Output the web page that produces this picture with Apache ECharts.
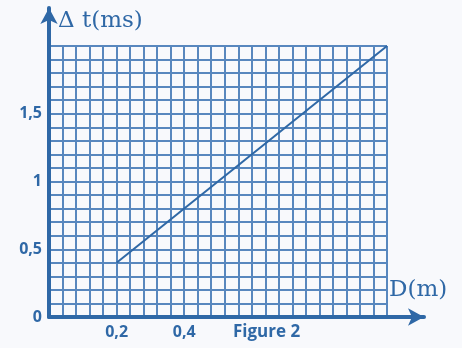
<!DOCTYPE html>
<html>
<head>
<meta charset="utf-8">
<script src="https://cdn.jsdelivr.net/npm/echarts@6/dist/echarts.min.js"></script>
<style>
html,body{margin:0;padding:0;background:#f8f9fc;}
#c{width:462px;height:348px;}
</style>
</head>
<body>
<div id="c"></div>
<script>
// Data
const lineD = [0.2, 1.0];          // D (m)
const lineT = [0.4, 2.0];          // Δt (ms)
const xTickLabels = [0.2, 0.4];
const yTickLabels = [0, 0.5, 1, 1.5];
const xLabelName = 'D(m)';
const yLabelName = 'Δ t(ms)';
const caption = 'Figure 2';

const blue = '#2f68a6';
const gridBlue = '#5887be';
const fmt = v => String(v).replace('.', ',');
const near = (arr, v) => arr.some(a => Math.abs(a - v) < 1e-6);

const chart = echarts.init(document.getElementById('c'), null, {renderer: 'canvas'});
chart.setOption({
  backgroundColor: '#f8f9fc',
  animation: false,
  grid: [
    {left: 49, top: 46, width: 338, height: 271},
    {left: 49, top: 8, width: 375, height: 309}
  ],
  xAxis: [
    {
      gridIndex: 0, type: 'value', min: 0, max: 1, interval: 0.04,
      axisLine: {show: false}, axisTick: {show: false},
      splitLine: {show: true, lineStyle: {color: gridBlue, width: 2}},
      axisLabel: {
        show: true, margin: 7, color: blue, fontFamily: 'Open Sans', fontWeight: 'bold', fontSize: 16,
        formatter: v => near(xTickLabels, v) ? fmt(+v.toFixed(2)) : ''
      }
    },
    {
      gridIndex: 1, type: 'value', min: 0, max: 1,
      axisLine: {show: true, symbol: ['none', 'arrow'], symbolSize: [13, 16], lineStyle: {color: blue, width: 4}},
      axisTick: {show: false}, axisLabel: {show: false}, splitLine: {show: false}
    }
  ],
  yAxis: [
    {
      gridIndex: 0, type: 'value', min: 0, max: 2, interval: 0.1,
      axisLine: {show: false}, axisTick: {show: false},
      splitLine: {show: true, lineStyle: {color: gridBlue, width: 2}},
      axisLabel: {
        show: true, margin: 7, color: blue, fontFamily: 'Open Sans', fontWeight: 'bold', fontSize: 16,
        formatter: v => near(yTickLabels, v) ? fmt(+v.toFixed(2)) : ''
      }
    },
    {
      gridIndex: 1, type: 'value', min: 0, max: 1,
      axisLine: {show: true, symbol: ['none', 'arrow'], symbolSize: [13, 16], lineStyle: {color: blue, width: 4}},
      axisTick: {show: false}, axisLabel: {show: false}, splitLine: {show: false}
    }
  ],
  series: [
    {
      type: 'line', xAxisIndex: 0, yAxisIndex: 0,
      data: lineD.map((d, i) => [d, lineT[i]]),
      showSymbol: false, symbol: 'none',
      lineStyle: {color: blue, width: 2}
    }
  ],
  graphic: [
    {type: 'text', left: 58, top: 10, style: {text: yLabelName, fill: blue, font: '23px "DejaVu Serif"'}},
    {type: 'text', left: 389, top: 279, style: {text: xLabelName, fill: blue, font: '23px "DejaVu Serif"'}},
    {type: 'text', left: 233, top: 324, style: {text: caption, fill: blue, font: 'bold 17px "Open Sans"'}}
  ]
});
</script>
</body>
</html>
